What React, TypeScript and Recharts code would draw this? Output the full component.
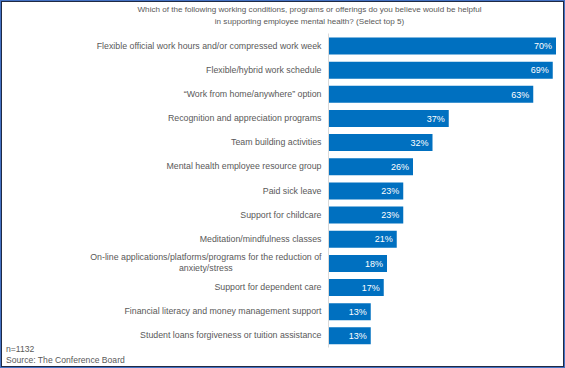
import React from 'react'
import { BarChart, Bar, XAxis, YAxis, LabelList } from 'recharts'

const categories = [
  'Flexible official work hours and/or compressed work week',
  'Flexible/hybrid work schedule',
  '\u201cWork from home/anywhere\u201d option',
  'Recognition and appreciation programs',
  'Team building activities',
  'Mental health employee resource group',
  'Paid sick leave',
  'Support for childcare',
  'Meditation/mindfulness classes',
  'On-line applications/platforms/programs for the reduction of|anxiety/stress',
  'Support for dependent care',
  'Financial literacy and money management support',
  'Student loans forgiveness or tuition assistance',
]

const shares = [70, 69, 63, 37, 32, 26, 23, 23, 21, 18, 17, 13, 13]

const titleLines = [
  'Which of the following working conditions, programs or offerings do you believe would be helpful',
  'in supporting employee mental health? (Select top 5)',
]

const footnotes = ['n=1132', 'Source: The Conference Board']

const data = categories.map((name, i) => ({ name, value: shares[i] }))

const FONT = '"Liberation Sans", Arial, sans-serif'
const GREY = '#595959'
const LABEL_SIZE = 8.8

let ctx: CanvasRenderingContext2D | null = null
function textWidth(s: string) {
  if (!ctx) ctx = document.createElement('canvas').getContext('2d')
  if (!ctx) return s.length * 4.5
  ctx.font = `${LABEL_SIZE}px ${FONT}`
  return ctx.measureText(s).width
}

function CategoryTick(props: any) {
  const { x, y, payload } = props
  const lines: string[] = String(payload.value).split('|')
  const right = x + 1
  if (lines.length === 1) {
    return (
      <text x={right} y={y} dy={3} textAnchor="end" fontSize={LABEL_SIZE} fill={GREY} fontFamily={FONT}>
        {lines[0]}
      </text>
    )
  }
  const w = textWidth(lines[0])
  const mid = right - w / 2
  return (
    <text fontSize={LABEL_SIZE} fill={GREY} fontFamily={FONT} textAnchor="middle">
      {lines.map((l, i) => (
        <tspan key={i} x={mid} y={y - 5.5 + i * 11} dy={3}>
          {l}
        </tspan>
      ))}
    </text>
  )
}

export default function App() {
  return (
    <div
      style={{
        position: 'fixed',
        left: 0,
        top: 0,
        width: 565,
        height: 368,
        boxSizing: 'border-box',
        border: '1px solid #4472C4',
        boxShadow: 'inset 0 0 0 1px #1F2A44',
        background: '#fff',
        fontFamily: FONT,
      }}
    >
      <div
        style={{
          position: 'absolute',
          left: 0,
          top: 3,
          width: 617,
          textAlign: 'center',
          fontSize: 8.1,
          lineHeight: '12px',
          color: GREY,
        }}
      >
        {titleLines.map((t) => (
          <div key={t}>{t}</div>
        ))}
      </div>
      <div style={{ position: 'absolute', left: -1, top: -1 }}>
        <BarChart
          width={565}
          height={368}
          data={data}
          layout="vertical"
          margin={{ top: 33.5, right: 9, bottom: 20.5, left: 0 }}
        >
          <XAxis type="number" domain={[0, 70]} hide />
          <YAxis
            type="category"
            dataKey="name"
            width={328.5}
            axisLine={{ stroke: '#D9D9D9' }}
            tickLine={false}
            interval={0}
            tick={<CategoryTick />}
          />
          <Bar dataKey="value" fill="#0070C0" barSize={17} isAnimationActive={false}>
            <LabelList
              dataKey="value"
              position="insideRight"
              offset={4}
              fill="#fff"
              fontSize={9}
              fontFamily={FONT}
              formatter={(v: any) => `${v}%`}
            />
          </Bar>
        </BarChart>
      </div>
      <div
        style={{
          position: 'absolute',
          left: 5,
          top: 343,
          fontSize: 8.6,
          lineHeight: '10.5px',
          color: GREY,
        }}
      >
        {footnotes.map((t) => (
          <div key={t}>{t}</div>
        ))}
      </div>
    </div>
  )
}
